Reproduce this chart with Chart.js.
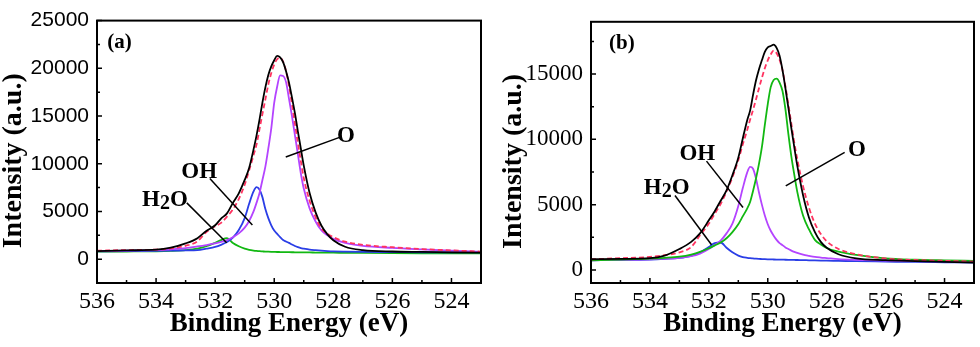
<!DOCTYPE html>
<html>
<head>
<meta charset="utf-8">
<script src="https://cdn.jsdelivr.net/npm/chart.js@4.4.0/dist/chart.umd.min.js"></script>
<style>
  body { margin: 0; background: #fff; }
  canvas { position: absolute; top: 0; }
</style>
</head>
<body>
<canvas id="chartA" width="490" height="347" style="left:0"></canvas>
<canvas id="chartB" width="490" height="347" style="left:490px"></canvas>
<script>
// binding energy grid (eV), shared by every curve
const ENERGY = [536, 535, 534, 533.5, 533, 532.6, 532.3, 532, 531.8, 531.6, 531.4, 531.2, 531, 530.85, 530.7,
    530.6, 530.5, 530.4, 530.3, 530.2, 530.1, 530, 529.9, 529.8, 529.7, 529.6, 529.5, 529.4, 529.3, 529.2,
    529.1, 529, 528.8, 528.6, 528.4, 528.2, 528, 527.6, 527, 526, 525, 524, 523];

// panel (a)
const A_MEASURED = [850, 920, 990, 1200, 1650, 2200, 2950, 3550, 4250, 4800, 5900, 6900, 8300, 9550, 11500,
    12950, 14600, 16400, 18000, 19300, 20200, 20850, 21300, 21150, 20650, 19700, 18500, 16950, 15300, 13400,
    11600, 9800, 6900, 4900, 3500, 2600, 1980, 1300, 950, 800, 760, 720, 680];
const A_FIT = [880, 950, 1000, 1120, 1400, 1870, 2830, 3450, 3800, 4450, 5200, 6300, 7800, 9300, 10900,
    12000, 13600, 15200, 16750, 18300, 19500, 20400, 20950, 21100, 20700, 19700, 18150, 16250, 14200, 12200,
    10300, 8500, 6100, 4400, 3200, 2680, 2300, 1840, 1500, 1250, 1060, 920, 790];
const A_O = [850, 900, 950, 1030, 1150, 1330, 1480, 1650, 1800, 2000, 2300, 2700, 3300, 4000, 5000,
    5900, 6900, 8300, 9700, 11600, 13700, 16400, 18100, 19250, 19200, 18550, 16800, 15000, 13000, 11000,
    9000, 7400, 5300, 3950, 3000, 2500, 2120, 1700, 1400, 1180, 1020, 880, 760];
const A_OH = [820, 840, 870, 890, 920, 950, 1100, 1280, 1500, 1800, 2250, 3050, 4300, 5800, 7100,
    7540, 7300, 6500, 5250, 4300, 3550, 3000, 2650, 2300, 2000, 1850, 1700, 1530, 1380, 1260,
    1160, 1100, 1000, 940, 890, 850, 820, 790, 760, 740, 720, 710, 700];
const A_H2O = [780, 800, 830, 870, 950, 1100, 1350, 1720, 2000, 2200, 1700, 1350, 1100, 980, 900,
    860, 830, 810, 790, 780, 770, 760, 750, 745, 740, 735, 730, 725, 720, 715,
    710, 705, 700, 690, 685, 680, 675, 665, 650, 630, 615, 605, 600];

// panel (b)
const B_MEASURED = [820, 850, 900, 1100, 1600, 2150, 2800, 3800, 4500, 5300, 6100, 7250, 8600, 10050, 11450,
    12200, 13400, 14500, 15350, 16050, 16700, 17050, 17150, 17250, 17000, 16400, 15300, 13900, 12400, 10850,
    9400, 8000, 5700, 4000, 2900, 2150, 1700, 1200, 880, 750, 680, 620, 570];
const B_FIT = [820, 900, 1000, 1130, 1350, 1750, 2650, 3550, 4300, 5050, 6000, 7100, 8400, 9600, 10700,
    11500, 12250, 13050, 13900, 14700, 15450, 16050, 16500, 16800, 16600, 16100, 15300, 14050, 12650, 11200,
    9750, 8500, 6400, 4750, 3550, 2750, 2200, 1600, 1200, 880, 760, 700, 640];
const B_O = [740, 800, 870, 930, 1020, 1180, 1380, 1660, 1880, 2100, 2430, 2900, 3500, 4100, 4700,
    5200, 6050, 7000, 8100, 9400, 11100, 12700, 14000, 14550, 14650, 14350, 13700, 12300, 10400, 8700,
    7300, 6000, 4150, 3100, 2300, 1950, 1680, 1400, 1150, 880, 780, 730, 690];
const B_OH = [740, 770, 820, 860, 930, 1050, 1250, 1600, 1900, 2250, 2800, 3550, 4900, 6250, 7450,
    7890, 7750, 7000, 5950, 5000, 4170, 3500, 3000, 2620, 2300, 2050, 1900, 1720, 1600, 1480,
    1380, 1300, 1170, 1080, 1000, 950, 910, 830, 780, 720, 680, 660, 640];
const B_H2O = [740, 760, 800, 850, 920, 1080, 1350, 1750, 2050, 2100, 1700, 1350, 1100, 990, 930,
    900, 880, 860, 845, 835, 825, 815, 805, 800, 795, 790, 785, 780, 775, 770,
    765, 760, 750, 740, 730, 720, 710, 695, 670, 640, 610, 590, 570];

// tick labels
const X_TICKS = [536, 534, 532, 530, 528, 526, 524];
const X_MINOR = [535, 533, 531, 529, 527, 525];
const A_Y_TICKS = [0, 5000, 10000, 15000, 20000, 25000];
const A_Y_MINOR = [2500, 7500, 12500, 17500, 22500];
const B_Y_TICKS = [0, 5000, 10000, 15000];
const B_Y_MINOR = [2500, 7500, 12500, 17500];

const BLACK = '#000000';
const RED = '#ff3360';
const VIOLET = '#b444ff';
const BLUE = '#2a3ee6';
const GREEN = '#12b812';
const SERIF = '"Liberation Serif", "Times New Roman", serif';
const SANS = '"Liberation Sans", Arial, sans-serif';

// "H_2O" -> H, subscript 2, O
function drawLabel(ctx, text, x, y, size, align) {
    const parts = [];
    for (let i = 0; i < text.length; i++) {
        if (text[i] === '_') { parts.push({ t: text[i + 1], sub: true }); i++; }
        else parts.push({ t: text[i], sub: false });
    }
    const fontOf = p => `bold ${p.sub ? Math.round(size * 0.85) : size}px ${SERIF}`;
    let width = 0;
    parts.forEach(p => { ctx.font = fontOf(p); width += ctx.measureText(p.t).width; });
    let px = align === 'left' ? x : x - width / 2;
    ctx.textAlign = 'left';
    ctx.textBaseline = 'alphabetic';
    parts.forEach(p => {
        ctx.font = fontOf(p);
        ctx.fillText(p.t, px, y + (p.sub ? size * 0.15 : 0));
        px += ctx.measureText(p.t).width;
    });
}

const xpsDecor = {
    id: 'xpsDecor',
    afterDraw(chart, args, opts) {
        const { ctx, chartArea: area, scales: { x, y } } = chart;
        ctx.save();
        ctx.strokeStyle = BLACK;
        ctx.fillStyle = BLACK;

        // frame
        ctx.lineWidth = 2;
        ctx.strokeRect(area.left, area.top, area.right - area.left, area.bottom - area.top);

        // inward ticks, bottom and left only
        ctx.lineWidth = 1.5;
        ctx.beginPath();
        const xTick = (v, len) => {
            const px = x.getPixelForValue(v);
            ctx.moveTo(px, area.bottom); ctx.lineTo(px, area.bottom - len);
        };
        const yTick = (v, len) => {
            const py = y.getPixelForValue(v);
            ctx.moveTo(area.left, py); ctx.lineTo(area.left + len, py);
        };
        X_TICKS.forEach(v => xTick(v, 5));
        X_MINOR.forEach(v => xTick(v, 3));
        opts.yMajor.forEach(v => yTick(v, 5));
        opts.yMinor.forEach(v => yTick(v, 3));
        ctx.stroke();

        // callouts
        ctx.lineWidth = 1.5;
        opts.notes.forEach(n => {
            if (n.line) {
                ctx.beginPath();
                ctx.moveTo(x.getPixelForValue(n.line[0][0]), y.getPixelForValue(n.line[0][1]));
                ctx.lineTo(x.getPixelForValue(n.line[1][0]), y.getPixelForValue(n.line[1][1]));
                ctx.stroke();
            }
            drawLabel(ctx, n.text, x.getPixelForValue(n.at[0]), y.getPixelForValue(n.at[1]), n.size || 23, n.align);
        });

        // y axis title
        ctx.translate(opts.yTitleX, (area.top + area.bottom) / 2 + 9);
        ctx.rotate(-Math.PI / 2);
        ctx.font = `bold 28px ${SERIF}`;
        ctx.textAlign = 'center';
        ctx.textBaseline = 'alphabetic';
        ctx.fillText('Intensity (a.u.)', 0, 0);
        ctx.restore();
    }
};

function makeChart(id, series, cfg) {
    return new Chart(document.getElementById(id), {
        type: 'line',
        data: {
            datasets: series.map(s => ({
                data: ENERGY.map((e, i) => ({ x: e, y: s.values[i] })),
                borderColor: s.color,
                borderWidth: 1.8,
                borderDash: s.dash || [],
                pointRadius: 0,
                fill: false,
                cubicInterpolationMode: 'monotone'
            }))
        },
        plugins: [xpsDecor],
        options: {
            responsive: false,
            animation: false,
            devicePixelRatio: 1,
            layout: { padding: { top: 13, right: cfg.padRight, bottom: 0, left: 0 } },
            plugins: {
                legend: { display: false },
                tooltip: { enabled: false },
                xpsDecor: cfg.decor
            },
            scales: {
                x: {
                    type: 'linear',
                    reverse: true,
                    min: 523,
                    max: 536,
                    grid: { display: false, drawTicks: false },
                    border: { display: false },
                    afterBuildTicks: s => { s.ticks = X_TICKS.map(v => ({ value: v })); },
                    afterFit: s => { s.height = 64; },
                    ticks: {
                        color: BLACK,
                        autoSkip: false,
                        maxRotation: 0,
                        padding: 4,
                        font: { family: SERIF, size: 24 },
                        callback: v => String(v)
                    },
                    title: {
                        display: true,
                        text: 'Binding Energy (eV)',
                        color: BLACK,
                        font: { family: SERIF, size: 27, weight: 'bold' },
                        padding: { top: 0, bottom: 7 }
                    }
                },
                y: {
                    min: cfg.yMin,
                    max: cfg.yMax,
                    grid: { display: false, drawTicks: false },
                    border: { display: false },
                    afterBuildTicks: s => { s.ticks = cfg.decor.yMajor.map(v => ({ value: v })); },
                    afterFit: s => { s.width = cfg.yWidth; },
                    ticks: {
                        color: BLACK,
                        padding: 8,
                        font: cfg.yFont,
                        callback: v => String(v)
                    }
                }
            }
        }
    });
}

makeChart('chartA', [
    { values: A_MEASURED, color: BLACK },
    { values: A_FIT, color: RED, dash: [5, 3] },
    { values: A_O, color: VIOLET },
    { values: A_OH, color: BLUE },
    { values: A_H2O, color: GREEN }
], {
    yMin: -2500, yMax: 25000, yWidth: 97, padRight: 9,
    yFont: { family: SANS, size: 21 },
    decor: {
        yMajor: A_Y_TICKS, yMinor: A_Y_MINOR, yTitleX: 21,
        notes: [
            { text: '(a)', at: [535.65, 22170], size: 21, align: 'left' },
            { text: 'O', at: [527.57, 12245], line: [[527.79, 12760], [529.61, 10710]] },
            { text: 'OH', at: [532.54, 8460], line: [[532.18, 8460], [530.74, 3580]] },
            { text: 'H_2O', at: [533.70, 5600], line: [[532.96, 5900], [531.61, 1710]] }
        ]
    }
});

makeChart('chartB', [
    { values: B_MEASURED, color: BLACK },
    { values: B_FIT, color: RED, dash: [5, 3] },
    { values: B_O, color: GREEN },
    { values: B_OH, color: VIOLET },
    { values: B_H2O, color: BLUE }
], {
    yMin: -1000, yMax: 19000, yWidth: 101, padRight: 6,
    yFont: { family: SERIF, size: 23 },
    decor: {
        yMajor: B_Y_TICKS, yMinor: B_Y_MINOR, yTitleX: 31,
        notes: [
            { text: '(b)', at: [535.39, 16910], size: 21, align: 'left' },
            { text: 'O', at: [526.97, 8725], line: [[527.39, 9000], [529.39, 6440]] },
            { text: 'OH', at: [532.39, 8380], line: [[532.08, 8330], [530.84, 4780]] },
            { text: 'H_2O', at: [533.43, 5825], line: [[533.15, 5700], [531.91, 1930]] }
        ]
    }
});
</script>
</body>
</html>
